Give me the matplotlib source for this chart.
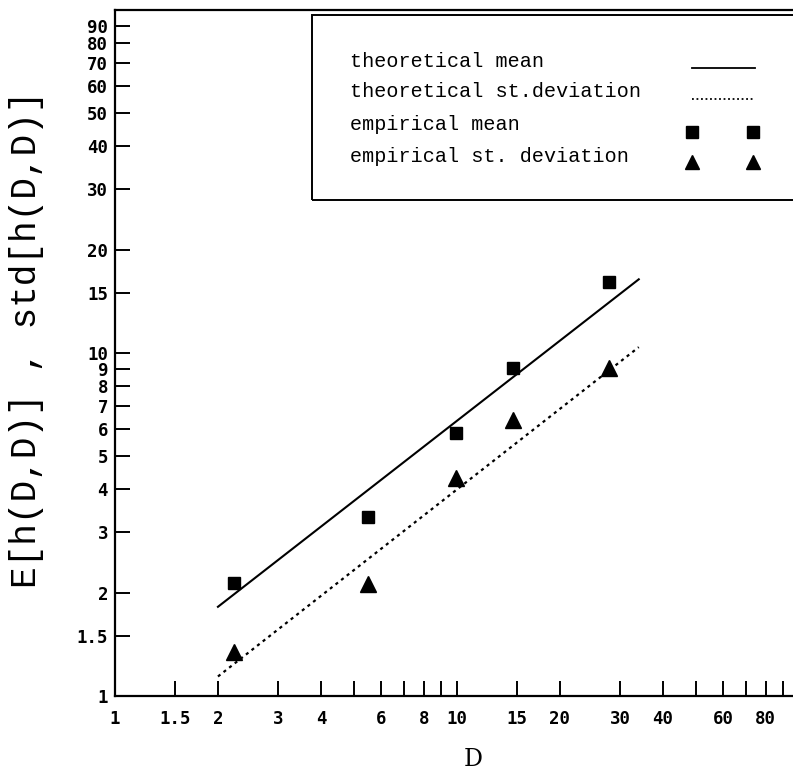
import matplotlib
matplotlib.use('Agg')
import matplotlib.pyplot as plt
from matplotlib.lines import Line2D
from matplotlib.patches import Rectangle
from matplotlib.ticker import FixedLocator, FixedFormatter, NullLocator

# Data
d_line = [2, 34]
mean_theory = [1.82, 16.4]
std_theory = [1.14, 10.4]

d_emp = [2.23, 5.5, 9.95, 14.6, 27.8]
mean_emp = [2.14, 3.32, 5.84, 9.04, 16.1]
std_emp = [1.34, 2.12, 4.32, 6.38, 9.04]

x_ticks = [1, 1.5, 2, 3, 4, 5, 6, 7, 8, 9, 10, 15, 20, 30, 40, 50, 60, 70, 80, 90]
x_labels = ['1', '1.5', '2', '3', '4', '', '6', '', '8', '', '10', '15', '20',
            '30', '40', '', '60', '', '80', '']
y_ticks = [1, 1.5, 2, 3, 4, 5, 6, 7, 8, 9, 10, 15, 20, 30, 40, 50, 60, 70, 80, 90]
y_labels = ['1', '1.5', '2', '3', '4', '5', '6', '7', '8', '9', '10', '15', '20',
            '30', '40', '50', '60', '70', '80', '90']

legend_labels = ['theoretical mean', 'theoretical st.deviation', 'empirical mean',
                 'empirical st. deviation']

W, H = 793, 771


def fx(px):
    return px / W


def fy(py):
    return (H - py) / H


fig = plt.figure(figsize=(7.93, 7.71), dpi=100)
ax = fig.add_axes([fx(115), fy(696), 684 / W, 686 / H])
ax.set_xscale('log')
ax.set_yscale('log')
ax.set_xlim(1, 100)
ax.set_ylim(1, 100)

ax.plot(d_line, mean_theory, color='black', linewidth=1.5)
ax.plot(d_line, std_theory, color='black', linewidth=1.6, linestyle=(0, (1.4, 1.8)))
ax.plot(d_emp, mean_emp, linestyle='none', marker='s', markersize=9, color='black')
ax.plot(d_emp, std_emp, linestyle='none', marker='^', markersize=11, color='black')

tick_font = dict(family='DejaVu Sans Mono', weight='bold', size=12.5)
ax.xaxis.set_major_locator(FixedLocator(x_ticks))
ax.xaxis.set_major_formatter(FixedFormatter(x_labels))
ax.yaxis.set_major_locator(FixedLocator(y_ticks))
ax.yaxis.set_major_formatter(FixedFormatter(y_labels))
ax.xaxis.set_minor_locator(NullLocator())
ax.yaxis.set_minor_locator(NullLocator())
ax.tick_params(axis='both', direction='in', length=11, width=1.4, color='black')
ax.tick_params(axis='x', pad=10)
ax.tick_params(axis='y', pad=5)
for lab in ax.get_xticklabels() + ax.get_yticklabels():
    lab.set_fontproperties(tick_font)

for sp in ax.spines.values():
    sp.set_linewidth(1.6)

fig.text(fx(27), fy(339), 'E[h(D,D)] , std[h(D,D)]', rotation=90,
         ha='center', va='center', family='Liberation Mono', fontsize=26)
fig.text(fx(473), fy(760), 'D', ha='center', va='center',
         family='DejaVu Serif', fontsize=17)

# Legend box, drawn by hand so the labels stay left-aligned
fig.patches.append(Rectangle((fx(312), fy(200)), 500 / W, 185 / H,
                             transform=fig.transFigure, fill=False,
                             edgecolor='black', linewidth=1.4))
rows = [67, 97, 130, 162]
for lab, py in zip(legend_labels, rows):
    fig.text(fx(350), fy(py), lab, ha='left', va='baseline',
             family='Liberation Mono', fontsize=14.5)
fig.add_artist(Line2D([fx(692), fx(755)], [fy(68), fy(68)],
                      transform=fig.transFigure, color='black', linewidth=1.3))
fig.add_artist(Line2D([fx(692), fx(755)], [fy(99), fy(99)],
                      transform=fig.transFigure, color='black', linewidth=1.3,
                      linestyle=(0, (1, 1.5))))
fig.add_artist(Line2D([fx(692), fx(753)], [fy(132), fy(132)],
                      transform=fig.transFigure, linestyle='none', marker='s',
                      markersize=8, color='black'))
fig.add_artist(Line2D([fx(692), fx(753)], [fy(162), fy(162)],
                      transform=fig.transFigure, linestyle='none', marker='^',
                      markersize=10, color='black'))

fig.savefig('out.png', dpi=100)
